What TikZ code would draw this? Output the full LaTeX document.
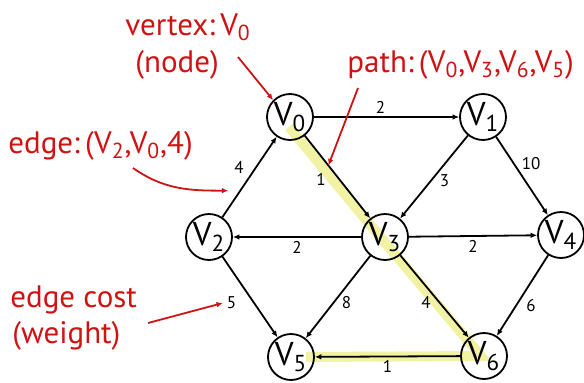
\documentclass[tikz,border=0pt]{standalone}
\usepackage{fontspec}
\setmainfont{PT Sans}
\usepackage{xcolor}
\usetikzlibrary{arrows.meta, backgrounds}
\definecolor{annred}{RGB}{208,18,18}
\definecolor{hlyellow}{RGB}{242,242,165}
\newcommand{\vx}[1]{V\textsubscript{#1}}

\begin{document}
\begin{tikzpicture}[
  x=0.5pt, y=0.5pt,
  >={Latex[length=3.2pt, width=2.8pt]},
  vert/.style={draw, circle, line width=0.9pt, minimum size=23pt,
               inner sep=0pt, font=\fontsize{16.5}{16}\selectfont},
  arr/.style={->, line width=0.9pt},
  wt/.style={font=\fontsize{8.5}{9}\selectfont, inner sep=1.5pt},
  ann/.style={text=annred, font=\fontsize{15.5}{17}\selectfont,
              inner sep=0pt, anchor=base west},
  annarr/.style={->, annred, line width=0.9pt},
  hl/.style={hlyellow, line width=5pt}
]
\useasboundingbox (0,0) rectangle (584,382);
\node[vert] (v0) at (290,265) {\vx{0}};
\node[vert] (v1) at (483,265) {\vx{1}};
\node[vert] (v2) at (209,145) {\vx{2}};
\node[vert] (v3) at (385,145) {\vx{3}};
\node[vert] (v4) at (561,147) {\vx{4}};
\node[vert] (v5) at (291,25) {\vx{5}};
\node[vert] (v6) at (484,26) {\vx{6}};
\begin{scope}[on background layer]
  \draw[hl] ([shift={(-1,-10)}]v0.center) -- ([shift={(-3,-2)}]v3.center)
            -- ([shift={(-3,0)}]v6.center) -- ([shift={(15,0)}]v5.center);
\end{scope}
\draw[arr] (v0) -- node[wt, above, xshift=-3pt] (w01) {2} (v1);
\draw[arr] (v2) -- node[wt, above left, xshift=-1pt] (w20) {4}
                   coordinate[pos=0.33] (e20) (v0);
\draw[arr] (v0) -- node[wt, left, xshift=-4pt, yshift=-1pt] (w03) {1}
                   coordinate[pos=0.36] (e03) (v3);
\draw[arr] (v1) -- node[wt, right, xshift=1pt, yshift=-2pt] (w13) {3} (v3);
\draw[arr] (v1) -- node[wt, above right, xshift=-2pt, yshift=1pt] (w14) {10} (v4);
\draw[arr] (v3) -- node[wt, below] (w32) {2} (v2);
\draw[arr] (v3) -- node[wt, below] (w34) {2} (v4);
\draw[arr] (v2) -- node[wt, left, xshift=-5pt, yshift=-3pt] (w25) {5} (v5);
\draw[arr] (v3) -- node[wt, right, xshift=0pt, yshift=-3pt] (w35) {8} (v5);
\draw[arr] (v3) -- node[wt, left, xshift=0pt, yshift=-3pt] (w36) {4} (v6);
\draw[arr] (v4) -- node[wt, below right] (w46) {6} (v6);
\draw[arr] (v6) -- node[wt, below] (w65) {1} (v5);
\node[ann] (lblvertex) at (125,347) {vertex:\,\vx{0}};
\node[ann] (lblnode) at (135,310) {(node)};
\node[ann] (lbledge) at (8,229) {edge:\,(\vx{2},\vx{0},4)};
\node[ann] (lblpath) at (347,310) {path:\,(\vx{0},\vx{3},\vx{6},\vx{5})};
\node[ann] (lblcost) at (10,75) {edge cost};
\node[ann] (lblweight) at (12,39) {(weight)};
\coordinate (vtail) at (238,325);
\coordinate (etail) at (133,214);
\coordinate (ptail) at (358,294);
\coordinate (ctail) at (148,59);
\draw[annarr] (vtail) -- (v0.135);
\draw[annarr] (etail) to[out=-35, in=180] ([xshift=-6]e20);
\draw[annarr] (ptail) -- (e03);
\draw[annarr] (ctail) -- (w25.west);
\end{tikzpicture}
\end{document}
